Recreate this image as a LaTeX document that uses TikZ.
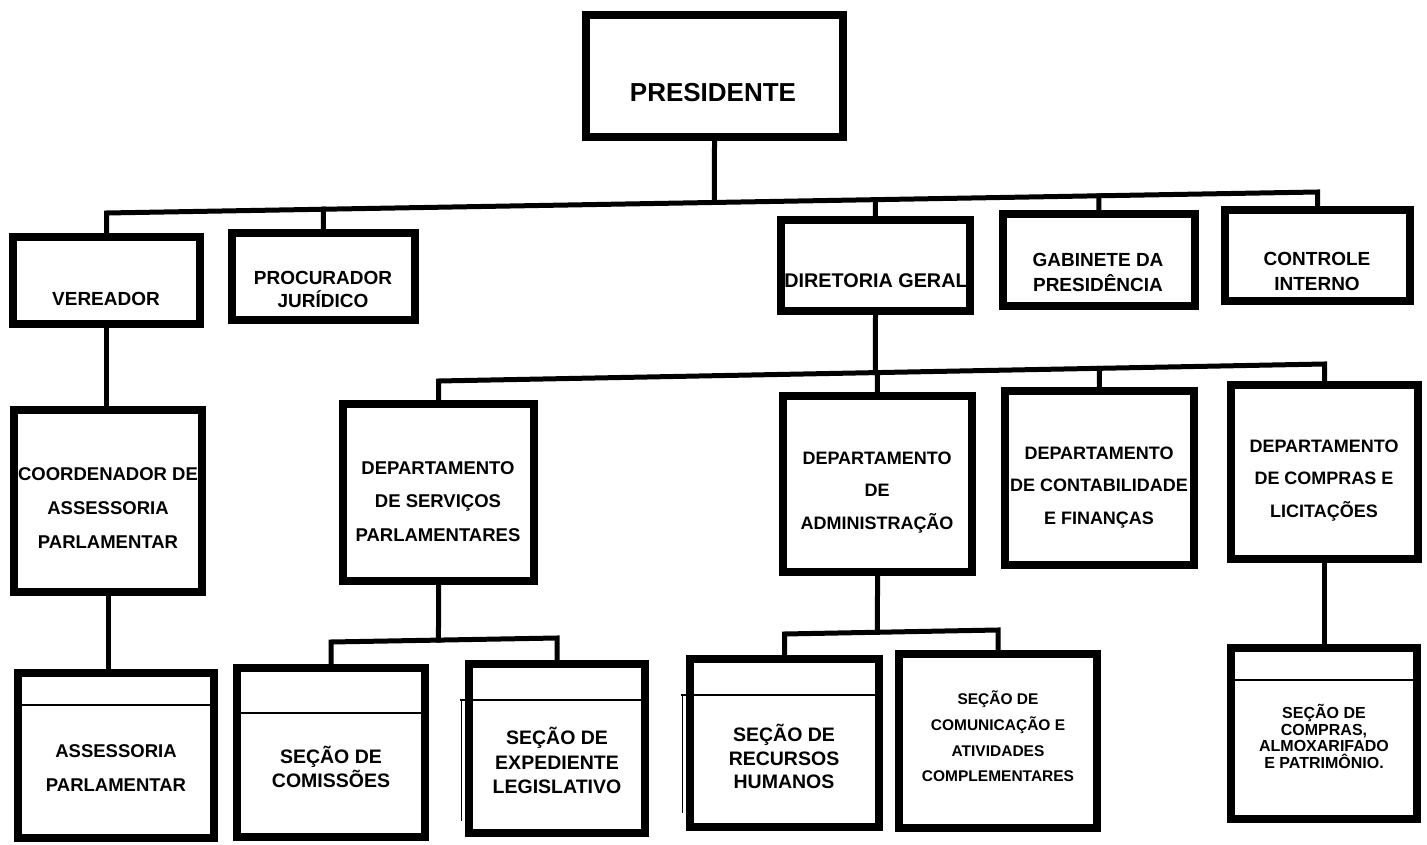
\documentclass[tikz,border=0pt]{standalone}
\usepackage{fontspec}
\setmainfont{Liberation Sans}
\begin{document}
\begin{tikzpicture}[x=1pt,y=-1pt,
  orgbox/.style={draw, line width=8pt, rectangle, inner sep=0pt, outer sep=0pt, fill=white},
  conn/.style={line width=5pt, line cap=rect},
  divider/.style={line width=1.8pt},
  hair/.style={line width=1pt},
  lbl/.style n args={2}{inner sep=0pt, align=center, font=\bfseries\fontsize{#1}{#2}\selectfont}]
\useasboundingbox[fill=white] (0,0) rectangle (1427,845);

% ---------- boxes ----------
\node[orgbox, minimum width=257pt, minimum height=122pt] (pres) at (714.5,76) {};
\node[orgbox, minimum width=187pt, minimum height=87pt] (ver) at (106.5,280.5) {};
\node[orgbox, minimum width=183pt, minimum height=87pt] (proc) at (323.5,276.5) {};
\node[orgbox, minimum width=189pt, minimum height=91pt] (dir) at (875.5,265.5) {};
\node[orgbox, minimum width=192pt, minimum height=92pt] (gab) at (1099,260) {};
\node[orgbox, minimum width=185pt, minimum height=91pt] (ctrl) at (1317.5,255.5) {};

\node[orgbox, minimum width=188pt, minimum height=182pt] (coord) at (108,501) {};
\node[orgbox, minimum width=191pt, minimum height=177pt] (dserv) at (438.5,492.5) {};
\node[orgbox, minimum width=189pt, minimum height=176pt] (dadm) at (877.5,484) {};
\node[orgbox, minimum width=189pt, minimum height=174pt] (dcont) at (1099.5,478) {};
\node[orgbox, minimum width=187pt, minimum height=174pt] (dcomp) at (1324.5,472) {};

\node[orgbox, minimum width=196pt, minimum height=165pt] (assess) at (116,755.5) {};
\node[orgbox, minimum width=188pt, minimum height=169pt] (comis) at (331,752.5) {};
\node[orgbox, minimum width=176pt, minimum height=169pt] (exped) at (557,748.5) {};
\node[orgbox, minimum width=189pt, minimum height=168pt] (rh) at (784.5,743) {};
\node[orgbox, minimum width=198pt, minimum height=174pt] (comun) at (998,741) {};
\node[orgbox, minimum width=186pt, minimum height=171pt] (secomp) at (1324,733.5) {};

% ---------- dividers in section boxes ----------
\draw[divider] ([yshift=-32pt]assess.north west) -- ([yshift=-32pt]assess.north east);
\draw[divider] ([yshift=-45pt]comis.north west) -- ([yshift=-45pt]comis.north east);
\draw[divider] ([xshift=-9pt,yshift=-36pt]exped.north west) -- ([yshift=-36pt]exped.north east);
\draw[hair] ([xshift=-8pt,yshift=-36pt]exped.north west) -- ([xshift=-8pt,yshift=12pt]exped.south west);
\draw[divider] ([xshift=-9pt,yshift=-36pt]rh.north west) -- ([yshift=-36pt]rh.north east);
\draw[hair] ([xshift=-8pt,yshift=-36pt]rh.north west) -- ([xshift=-8pt,yshift=14pt]rh.south west);
\draw[divider] ([yshift=-32pt]secomp.north west) -- ([yshift=-32pt]secomp.north east);

% ---------- labels ----------
\node[lbl={26}{30}] (tpres) at (713,93) {PRESIDENTE};
\node[lbl={19}{25}] (tver) at (106,299) {VEREADOR};
\node[lbl={19}{23}] (tproc) at (323,289.5) {PROCURADOR\\JURÍDICO};
\node[lbl={19.8}{25}] (tdir) at (876,281) {DIRETORIA GERAL};
\node[lbl={19}{25}] (tgab) at (1098,272.5) {GABINETE DA\\PRESIDÊNCIA};
\node[lbl={19}{25}] (tctrl) at (1317,271.5) {CONTROLE\\INTERNO};

\node[lbl={18.5}{34}] (tcoord) at (108,508) {COORDENADOR DE\\ASSESSORIA\\PARLAMENTAR};
\node[lbl={18.5}{33.5}] (tdserv) at (438,501.5) {DEPARTAMENTO\\DE SERVIÇOS\\PARLAMENTARES};
\node[lbl={18}{32.5}] (tdadm) at (877,492.5) {DEPARTAMENTO\\DE\\ADMINISTRAÇÃO};
\node[lbl={18}{32.5}] (tdcont) at (1099,487.5) {DEPARTAMENTO\\DE CONTABILIDADE\\E FINANÇAS};
\node[lbl={18}{32.5}] (tdcomp) at (1324,480.5) {DEPARTAMENTO\\DE COMPRAS E\\LICITAÇÕES};

\node[lbl={18.5}{34}] (tassess) at (116,768.5) {ASSESSORIA\\PARLAMENTAR};
\node[lbl={19.5}{24}] (tcomis) at (331,766.5) {SEÇÃO DE\\COMISSÕES};
\node[lbl={19.5}{24.5}] (texped) at (557,760.5) {SEÇÃO DE\\EXPEDIENTE\\LEGISLATIVO};
\node[lbl={19.5}{23.5}] (trh) at (784,756.5) {SEÇÃO DE\\RECURSOS\\HUMANOS};
\node[lbl={15.5}{25.7}] (tcomun) at (998,736.5) {SEÇÃO DE\\COMUNICAÇÃO E\\ATIVIDADES\\COMPLEMENTARES};
\node[lbl={16}{16.5}] (tsecomp) at (1324,736.5) {SEÇÃO DE\\COMPRAS,\\ALMOXARIFADO\\E PATRIMÔNIO.};

% ---------- connectors ----------
% level 1 bus
\coordinate (b1L) at (106.5,213);
\coordinate (b1R) at (1317.5,192);
\draw[conn] (ver.north) -- (b1L) -- (b1R) -- (ctrl.north);
\draw[conn] (pres.south) -- (intersection of pres.north--pres.south and b1L--b1R);
\draw[conn] (proc.north) -- (intersection of proc.north--proc.south and b1L--b1R);
\draw[conn] (dir.north) -- (intersection of dir.north--dir.south and b1L--b1R);
\draw[conn] (gab.north) -- (intersection of gab.north--gab.south and b1L--b1R);

% vereador chain
\draw[conn] (ver.south) -- (ver.south |- coord.north);
\draw[conn] (coord.south) -- (coord.south |- assess.north);

% diretoria bus
\coordinate (b2L) at (438.5,381);
\coordinate (b2R) at (1324.5,364);
\draw[conn] (dserv.north) -- (b2L) -- (b2R) -- (dcomp.north);
\draw[conn] (dir.south) -- (intersection of dir.north--dir.south and b2L--b2R);
\draw[conn] (dadm.north) -- (intersection of dadm.north--dadm.south and b2L--b2R);
\draw[conn] (dcont.north) -- (intersection of dcont.north--dcont.south and b2L--b2R);

% servicos bus
\coordinate (b3L) at (331,642);
\coordinate (b3R) at (557,638);
\draw[conn] (comis.north) -- (b3L) -- (b3R) -- (exped.north);
\draw[conn] (dserv.south) -- (intersection of dserv.north--dserv.south and b3L--b3R);

% administracao bus
\coordinate (b4L) at (784.5,634);
\coordinate (b4R) at (998,630);
\draw[conn] (rh.north) -- (b4L) -- (b4R) -- (comun.north);
\draw[conn] (dadm.south) -- (intersection of dadm.north--dadm.south and b4L--b4R);

% compras chain
\draw[conn] (dcomp.south) -- (dcomp.south |- secomp.north);
\end{tikzpicture}
\end{document}
